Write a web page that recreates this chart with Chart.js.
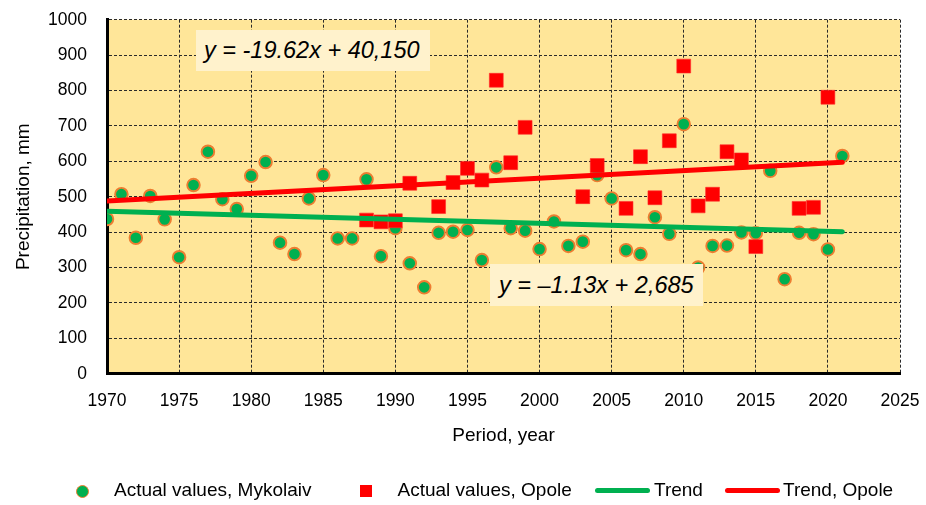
<!DOCTYPE html>
<html><head><meta charset="utf-8">
<script src="https://cdn.jsdelivr.net/npm/chart.js@4.4.1/dist/chart.umd.min.js"></script>
<style>
html,body{margin:0;padding:0;background:#fff;}
#wrap{position:relative;width:926px;height:505px;font-family:"Liberation Sans",Arial,sans-serif;overflow:hidden;}
canvas{position:absolute;left:0;top:0;}
.eq{position:absolute;background:#FFF2CC;font-style:italic;font-size:23.5px;color:#000;white-space:nowrap;box-sizing:border-box;}
.leg{position:absolute;font-size:19px;line-height:22px;color:#000;white-space:nowrap;}
.mk{position:absolute;box-sizing:border-box;}
</style></head>
<body><div id="wrap"><canvas id="c" width="926" height="505"></canvas>
<div class="eq" style="left:196px;top:30px;width:234px;height:41px;line-height:41px;padding-left:8px;">y = -19.62x + 40,150</div>
<div class="eq" style="left:490px;top:264px;width:213px;height:42px;line-height:42px;padding-left:9px;">y = –1.13x + 2,685</div>
<div id="legend"></div>
</div>
<script>
// ---- data ----
const years = [1970,1971,1972,1973,1974,1975,1976,1977,1978,1979,
  1980,1981,1982,1983,1984,1985,1986,1987,1988,1989,
  1990,1991,1992,1993,1994,1995,1996,1997,1998,1999,
  2000,2001,2002,2003,2004,2005,2006,2007,2008,2009,
  2010,2011,2012,2013,2014,2015,2016,2017,2018,2019,
  2020,2021];
const mykolaiv = [437,507,384,502,436,329,533,627,493,465,
  559,598,370,338,495,561,382,382,549,332,
  411,312,244,398,401,406,321,583,411,404,
  352,430,361,373,561,495,349,338,442,395,
  705,300,361,362,399,397,573,267,398,394,
  351,615];
const opoleYears = [1988,1989,1990,1991,1993,1994,1995,1996,1997,1998,1999,
  2003,2004,2006,2007,2008,2009,2010,2011,2012,2013,2014,2015,2018,2019,2020];
const opole = [434,429,432,538,472,540,580,547,829,596,696,
  500,588,467,613,497,658,869,474,507,627,604,359,467,470,781];
const trendYears = [1970, 2021];
const trendMykolaiv = [459, 401];
const trendOpole = [488, 597];
const xTicks = [1970,1975,1980,1985,1990,1995,2000,2005,2010,2015,2020,2025];
const yTicks = [0,100,200,300,400,500,600,700,800,900,1000];
const seriesNames = ['Actual values, Mykolaiv','Actual values, Opole','Trend','Trend, Opole'];

const GREEN = '#00B050', ORANGE = '#ED7D31', RED = '#FF0000';

const bgPlugin = {id:'bg', beforeDraw(chart){
  const {ctx, chartArea:a} = chart;
  ctx.save(); ctx.fillStyle = '#FFE699';
  ctx.fillRect(a.left, a.top, a.right - a.left, a.bottom - a.top);
  ctx.restore();
}};

const tickFont = {family:'"Liberation Sans", Arial, sans-serif', size:17.5};
const titleFont = {family:'"Liberation Sans", Arial, sans-serif', size:19};
const gridOpts = {color:'#2a2a2a', lineWidth:1, drawTicks:false};
const borderOpts = {display:true, color:'#000', width:3, dash:[3,2]};

new Chart(document.getElementById('c'), {
  type:'scatter',
  data:{datasets:[
    {label:seriesNames[0], data:years.map((y,i)=>({x:y,y:mykolaiv[i]})),
     pointStyle:'circle', pointRadius:6.3, pointHoverRadius:6.3, backgroundColor:GREEN, borderColor:ORANGE, borderWidth:1.9, order:4},
    {label:seriesNames[1], data:opoleYears.map((y,i)=>({x:y,y:opole[i]})),
     pointStyle:'rect', pointRadius:9.8, pointHoverRadius:9.8, backgroundColor:RED, borderColor:'#ff2a2a', borderWidth:0.6, order:3},
    {label:seriesNames[2], data:trendYears.map((y,i)=>({x:y,y:trendMykolaiv[i]})),
     showLine:true, pointRadius:0, borderColor:GREEN, borderWidth:5, borderCapStyle:'round', order:2},
    {label:seriesNames[3], data:trendYears.map((y,i)=>({x:y,y:trendOpole[i]})),
     showLine:true, pointRadius:0, borderColor:RED, borderWidth:5, borderCapStyle:'round', order:1}
  ]},
  options:{
    responsive:false, animation:false, devicePixelRatio:1,
    layout:{padding:{left:0, top:19.7, right:26, bottom:58.2}},
    plugins:{legend:{display:false}, tooltip:{enabled:false}},
    scales:{
      x:{type:'linear', min:xTicks[0], max:xTicks[xTicks.length-1],
         afterBuildTicks:s=>{s.ticks = xTicks.map(v=>({value:v}));},
         ticks:{font:tickFont, color:'#000', padding:17, callback:v=>String(v), maxRotation:0},
         grid:gridOpts, border:borderOpts,
         title:{display:true, text:'Period, year', font:titleFont, color:'#000', padding:{top:0,bottom:0}},
         afterFit:s=>{s.height = 73.1; s.paddingLeft = 0; s.paddingRight = 0;}},
      y:{type:'linear', min:yTicks[0], max:yTicks[yTicks.length-1],
         afterBuildTicks:s=>{s.ticks = yTicks.map(v=>({value:v}));},
         ticks:{font:tickFont, color:'#000', padding:20, callback:v=>String(v)},
         grid:gridOpts, border:borderOpts,
         title:{display:true, text:'Precipitation, mm', font:titleFont, color:'#000', padding:{top:12,bottom:0}},
         afterFit:s=>{s.width = 107; s.paddingTop = 0; s.paddingBottom = 0;}}
    }
  },
  plugins:[bgPlugin]
});

// ---- legend (HTML) ----
const leg = document.getElementById('legend');
function add(html){ leg.insertAdjacentHTML('beforeend', html); }
add(`<div class="mk" style="left:76.2px;top:484.5px;width:13px;height:13px;border-radius:50%;background:${GREEN};border:1.8px solid ${ORANGE};"></div>`);
add(`<div class="leg" style="left:114px;top:479px;">${seriesNames[0]}</div>`);
add(`<div class="mk" style="left:360px;top:484.5px;width:12px;height:12px;background:${RED};"></div>`);
add(`<div class="leg" style="left:397.5px;top:479px;">${seriesNames[1]}</div>`);
add(`<div class="mk" style="left:595px;top:488.2px;width:55px;height:5px;border-radius:3px;background:${GREEN};"></div>`);
add(`<div class="leg" style="left:654px;top:479px;">${seriesNames[2]}</div>`);
add(`<div class="mk" style="left:725px;top:488.2px;width:55px;height:5px;border-radius:3px;background:${RED};"></div>`);
add(`<div class="leg" style="left:783px;top:479px;">${seriesNames[3]}</div>`);
</script>
</body></html>
